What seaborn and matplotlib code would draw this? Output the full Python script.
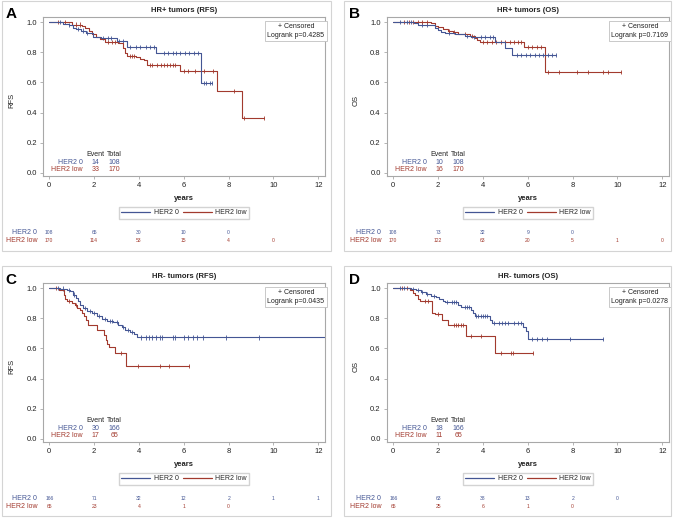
import numpy as np
import pandas as pd
import matplotlib
matplotlib.use("Agg")
import matplotlib.pyplot as plt
import seaborn as sns
from matplotlib.lines import Line2D
from matplotlib.patches import Rectangle
from matplotlib.transforms import blended_transform_factory

# ---------------- data ----------------
groups = ["HER2 0", "HER2 low"]
palette = {"HER2 0": "#445694", "HER2 low": "#A23A2E"}
x_ticks = [0, 2, 4, 6, 8, 10, 12]
y_ticks = [0.0, 0.2, 0.4, 0.6, 0.8, 1.0]

# Panel A: HR+ tumors (RFS)
a0_t = [0, 0.6, 0.9, 1.05, 1.2, 1.4, 1.65, 1.95, 2.3, 3.0, 3.45, 4.75, 6.75, 7.25]
a0_s = [1.0, 0.99, 0.98, 0.965, 0.955, 0.945, 0.927, 0.905, 0.895, 0.876, 0.836, 0.797, 0.597, 0.597]
a0_c = [0.5, 0.9, 1.3, 1.5, 1.7, 2.4, 2.6, 2.75, 3.1, 3.3, 3.6, 3.85, 4.05, 4.3, 4.5, 4.65,
        5.1, 5.3, 5.5, 5.65, 5.85, 6.05, 6.25, 6.45, 6.65, 6.9, 7.0, 7.15, 7.25]
a1_t = [0, 1.0, 1.45, 1.6, 1.75, 1.9, 2.1, 2.25, 2.5, 3.08, 3.3, 3.38, 3.45, 3.87, 4.05, 4.22,
        4.37, 5.84, 7.46, 8.58, 9.59]
a1_s = [1.0, 0.985, 0.975, 0.96, 0.94, 0.92, 0.905, 0.889, 0.871, 0.86, 0.829, 0.796, 0.778,
        0.769, 0.756, 0.747, 0.718, 0.676, 0.541, 0.364, 0.364]
a1_c = [0.4, 0.7, 1.2, 1.35, 2.6, 2.8, 2.95, 3.6, 3.7, 3.8, 4.5, 4.6, 4.8, 5.0, 5.1, 5.25,
        5.4, 5.5, 5.6, 6.0, 6.2, 6.5, 6.9, 7.3, 8.25, 8.7, 9.59]

# Panel B: HR+ tumors (OS)
b0_t = [0, 0.94, 1.09, 1.84, 1.99, 2.14, 2.29, 2.74, 3.18, 3.48, 4.53, 4.98, 5.28, 7.26]
b0_s = [1.0, 0.993, 0.98, 0.965, 0.949, 0.938, 0.927, 0.92, 0.911, 0.9, 0.867, 0.827, 0.783, 0.783]
b0_c = [0.3, 0.6, 0.8, 1.3, 1.5, 2.5, 3.3, 3.6, 3.9, 4.1, 4.3, 4.45, 5.5, 5.7, 5.9, 6.1,
        6.3, 6.5, 6.7, 6.9, 7.1, 7.26]
b1_t = [0, 1.7, 1.84, 1.99, 2.21, 2.44, 2.66, 2.88, 3.11, 3.41, 3.63, 3.75, 3.86, 5.83, 6.77, 10.18]
b1_s = [1.0, 0.993, 0.978, 0.967, 0.953, 0.942, 0.933, 0.925, 0.92, 0.911, 0.898, 0.882,
        0.871, 0.836, 0.67, 0.67]
b1_c = [0.5, 0.7, 0.9, 1.1, 1.3, 1.5, 2.5, 2.7, 3.2, 3.5, 4.0, 4.2, 4.4, 4.6, 4.8, 5.0, 5.2,
        5.4, 5.55, 5.7, 6.0, 6.2, 6.4, 6.6, 6.9, 7.4, 8.2, 8.7, 9.35, 9.6, 10.18]

# Panel C: HR- tumors (RFS)
c0_t = [0, 0.5, 0.77, 0.92, 1.07, 1.19, 1.29, 1.37, 1.49, 1.67, 1.89, 2.11, 2.33, 2.56, 2.86,
        3.08, 3.23, 3.38, 3.6, 3.78, 3.9, 12.3]
c0_s = [1.0, 0.998, 0.991, 0.98, 0.958, 0.936, 0.913, 0.891, 0.869, 0.851, 0.836, 0.813, 0.796,
        0.784, 0.773, 0.758, 0.74, 0.724, 0.707, 0.698, 0.673, 0.673]
c0_c = [0.4, 0.6, 0.9, 1.1, 1.6, 1.8, 2.0, 2.2, 2.5, 2.7, 2.8, 3.0, 3.3, 3.5, 3.7, 4.1, 4.3,
        4.45, 4.6, 4.75, 4.95, 5.05, 5.5, 5.6, 6.0, 6.2, 6.4, 6.6, 6.85, 7.9, 9.35]
c1_t = [0, 0.45, 0.57, 0.65, 0.71, 0.77, 1.0, 1.15, 1.25, 1.37, 1.44, 1.55, 1.64, 1.74, 2.11,
        2.44, 2.53, 2.59, 2.68, 2.93, 3.42, 6.25]
c1_s = [1.0, 0.991, 0.987, 0.958, 0.929, 0.916, 0.902, 0.891, 0.869, 0.853, 0.836, 0.813, 0.791,
        0.756, 0.724, 0.691, 0.658, 0.631, 0.609, 0.567, 0.482, 0.482]
c1_c = [0.3, 0.9, 1.2, 3.2, 3.95, 4.95, 5.35, 6.25]

# Panel D: HR- tumors (OS)
d0_t = [0, 0.79, 1.02, 1.24, 1.46, 1.69, 1.91, 2.06, 2.21, 2.32, 2.88, 3.0, 3.45, 3.56, 3.63,
        4.3, 4.41, 5.8, 5.9, 6.02, 9.36]
d0_s = [1.0, 0.996, 0.987, 0.976, 0.962, 0.951, 0.94, 0.929, 0.918, 0.907, 0.891, 0.876, 0.858,
        0.836, 0.813, 0.791, 0.769, 0.74, 0.718, 0.662, 0.662]
d0_c = [0.3, 0.5, 0.9, 1.1, 1.3, 1.5, 1.8, 2.4, 2.6, 2.7, 2.8, 3.2, 3.3, 3.4, 3.7, 3.8, 3.9,
        4.0, 4.1, 4.2, 4.5, 4.7, 4.85, 5.0, 5.1, 5.4, 5.55, 5.7, 6.2, 6.4, 6.65, 6.85, 7.9, 9.36]
d1_t = [0, 0.75, 0.87, 0.97, 1.09, 1.17, 1.73, 1.84, 2.18, 2.44, 3.23, 4.53, 6.25]
d1_s = [1.0, 0.991, 0.969, 0.958, 0.929, 0.913, 0.836, 0.829, 0.791, 0.758, 0.68, 0.567, 0.567]
d1_c = [0.4, 0.6, 1.4, 1.55, 2.0, 2.7, 2.8, 2.9, 3.0, 3.1, 3.45, 3.9, 4.8, 5.25, 5.35, 6.25]

# numbers at risk (at years 0, 2, 4, ...)
a0_risk = [108, 65, 30, 10, 0]
a1_risk = [170, 114, 53, 15, 4, 0]
b0_risk = [108, 73, 32, 9, 0]
b1_risk = [170, 122, 63, 20, 5, 1, 0]
c0_risk = [166, 71, 32, 12, 2, 1, 1]
c1_risk = [65, 23, 4, 1, 0]
d0_risk = [166, 63, 38, 13, 2, 0]
d1_risk = [65, 25, 6, 1, 0]

# event / total tables
a_events = [14, 33]; a_totals = [108, 170]
b_events = [10, 16]; b_totals = [108, 170]
c_events = [30, 17]; c_totals = [166, 65]
d_events = [18, 11]; d_totals = [166, 65]

titles = ["HR+ tumors (RFS)", "HR+ tumors (OS)", "HR- tumors (RFS)", "HR- tumors (OS)"]
letters = ["A", "B", "C", "D"]
ylabels = ["RFS", "OS", "RFS", "OS"]
pvalues = ["0.4285", "0.7169", "0.0435", "0.0278"]

# ---------------- style ----------------
sns.set_style("white")
plt.rcParams["font.family"] = ["Liberation Sans", "DejaVu Sans"]

W, H = 676, 518
fig = plt.figure(figsize=(W / 100, H / 100), dpi=100)
fig.patch.set_facecolor("white")

def fx(px):
    return px / W

def fy(py):
    return 1 - py / H

panels = [
    dict(ox=0, oy=0, frame=(2, 1, 329, 250),
         curves=[(a0_t, a0_s, a0_c), (a1_t, a1_s, a1_c)], risk=[a0_risk, a1_risk],
         ev=a_events, tot=a_totals),
    dict(ox=344, oy=0, frame=(344, 1, 327, 250),
         curves=[(b0_t, b0_s, b0_c), (b1_t, b1_s, b1_c)], risk=[b0_risk, b1_risk],
         ev=b_events, tot=b_totals),
    dict(ox=0, oy=266, frame=(2, 266, 329, 250),
         curves=[(c0_t, c0_s, c0_c), (c1_t, c1_s, c1_c)], risk=[c0_risk, c1_risk],
         ev=c_events, tot=c_totals),
    dict(ox=344, oy=266, frame=(344, 266, 327, 250),
         curves=[(d0_t, d0_s, d0_c), (d1_t, d1_s, d1_c)], risk=[d0_risk, d1_risk],
         ev=d_events, tot=d_totals),
]

spine_c = "#a8a8a8"
text_c = "#222222"

for i, p in enumerate(panels):
    ox, oy = p["ox"], p["oy"]
    fl, ft, fw, fh = p["frame"]
    fig.patches.append(Rectangle((fx(fl), fy(ft + fh)), fw / W, fh / H, transform=fig.transFigure,
                                 fill=False, ec="#d4d4d4", lw=0.8))

    ax = fig.add_axes([fx(ox + 43), fy(oy + 176), 282 / W, 159 / H])

    line_rows, cens_rows = [], []
    for g, (t, s, c) in zip(groups, p["curves"]):
        t = np.asarray(t); s = np.asarray(s)
        line_rows.append(pd.DataFrame({"years": t, "surv": s, "group": g}))
        idx = np.searchsorted(t, np.asarray(c), side="right") - 1
        cens_rows.append(pd.DataFrame({"years": c, "surv": s[idx], "group": g}))
    ldf = pd.concat(line_rows, ignore_index=True)
    cdf = pd.concat(cens_rows, ignore_index=True)

    sns.lineplot(data=ldf, x="years", y="surv", hue="group", palette=palette,
                 estimator=None, sort=False, drawstyle="steps-post", lw=0.8,
                 legend=False, ax=ax, hue_order=groups[::-1])
    sns.scatterplot(data=cdf, x="years", y="surv", hue="group", palette=palette,
                    marker="|", s=9, linewidth=0.6, legend=False, ax=ax, hue_order=groups[::-1])

    ax.set_xlim(-0.28, 12.3)
    ax.set_ylim(-0.022, 1.035)
    ax.set_xticks(x_ticks)
    ax.set_xticklabels([str(v) for v in x_ticks])
    ax.set_yticks(y_ticks)
    ax.set_yticklabels([f"{v:.1f}" for v in y_ticks])
    ax.set_xlabel(""); ax.set_ylabel("")
    for sp in ax.spines.values():
        sp.set_color(spine_c); sp.set_linewidth(0.8)
    ax.tick_params(axis="both", which="both", direction="out", length=2.5, width=0.6,
                   color=spine_c, labelsize=5.5, labelcolor=text_c, pad=2, bottom=True, left=True)

    # texts
    fig.text(fx(ox + 11), fy(oy + 14), letters[i], fontsize=11, fontweight="bold",
             ha="center", va="center", color="black")
    fig.text(fx(ox + 184), fy(oy + 11), titles[i], fontsize=5.5, fontweight="bold",
             ha="center", va="center", color=text_c)
    fig.text(fx(ox + 12), fy(oy + 100), ylabels[i], fontsize=5.5, rotation=90,
             ha="center", va="center", color=text_c)
    fig.text(fx(ox + 184), fy(oy + 199), "years", fontsize=5.5, fontweight="bold",
             ha="center", va="center", color=text_c)

    # censored / logrank box
    ax.text(0.897, 0.96, "+ Censored\nLogrank p=" + pvalues[i], transform=ax.transAxes,
            fontsize=5, ha="center", va="top", multialignment="center", color=text_c,
            linespacing=1.25,
            bbox=dict(boxstyle="square,pad=0.35", fc="white", ec="#c0c0c0", lw=0.6))

    # event / total table
    ax.text(2.05, 0.124, "Event", fontsize=5, ha="center", va="center", color=text_c)
    ax.text(2.89, 0.124, "Total", fontsize=5, ha="center", va="center", color=text_c)
    for j, (g, yy) in enumerate(zip(groups, [0.071, 0.018])):
        col = palette[g]
        ax.text(1.5, yy, g, fontsize=5, ha="right", va="center", color=col)
        ax.text(2.05, yy, str(p["ev"][j]), fontsize=5, ha="center", va="center", color=col)
        ax.text(2.89, yy, str(p["tot"][j]), fontsize=5, ha="center", va="center", color=col)

    # legend
    handles = [Line2D([], [], color=palette[g], lw=0.9) for g in groups]
    fig.legend(handles, groups, loc="center", bbox_to_anchor=(fx(ox + 184), fy(oy + 213)),
               ncol=2, fontsize=5, frameon=True, fancybox=False, edgecolor="#c8c8c8",
               handlelength=4.2, handletextpad=0.5, columnspacing=0.6, borderpad=0.35,
               borderaxespad=0)

    # numbers at risk
    trans = blended_transform_factory(ax.transData, fig.transFigure)
    for g, risk, yy in zip(groups, p["risk"], [oy + 233, oy + 240]):
        col = palette[g]
        fig.text(fx(ox + 37), fy(yy), g, fontsize=5, ha="right", va="center", color=col)
        for k, n in enumerate(risk):
            ax.text(x_ticks[k], fy(yy), str(n), transform=trans, fontsize=3.6,
                    ha="center", va="center", color=col, clip_on=False)

fig.savefig("out.png", dpi=100, facecolor="white")
